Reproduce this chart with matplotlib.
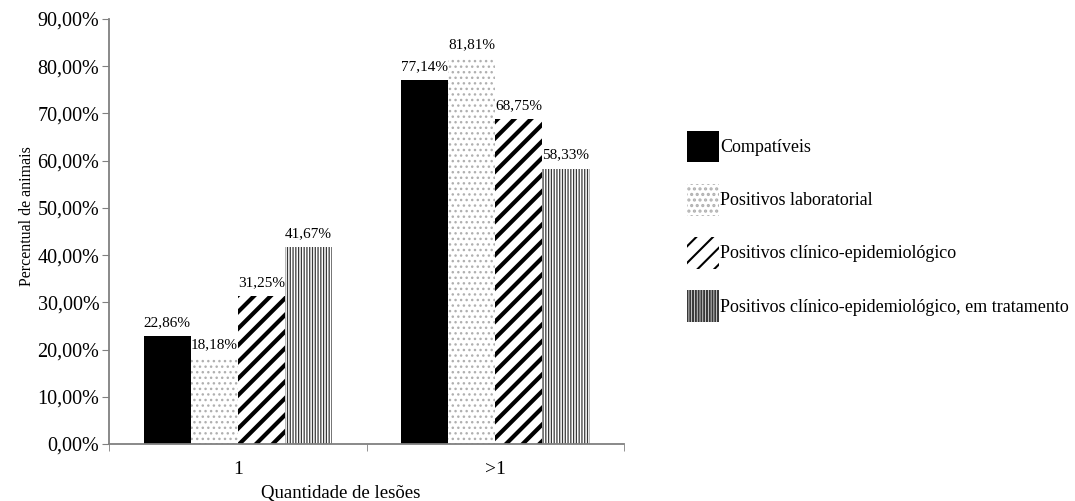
import numpy as np
import matplotlib
matplotlib.use('Agg')
import matplotlib.pyplot as plt
from matplotlib.patches import Patch
from matplotlib.ticker import FuncFormatter

plt.rcParams['font.family'] = ['Liberation Serif', 'DejaVu Serif']

categorias = ['1', '>1']
series = ['Compatíveis', 'Positivos laboratorial', 'Positivos clínico-epidemiológico',
          'Positivos clínico-epidemiológico, em tratamento']
valores = [
    [22.86, 77.14],
    [18.18, 81.81],
    [31.25, 68.75],
    [41.67, 58.33],
]

# estilo de cada série: cor de fundo, cor da hachura, hachura, espessura
estilos = [
    dict(face='black', hcor='black', hatch=None, hlw=1.0),
    dict(face='white', hcor='#b0b0b0', hatch='...', hlw=1.0),
    dict(face='white', hcor='black', hatch='//', hlw=3.0),
    dict(face='white', hcor='#383838', hatch='||||||', hlw=0.9),
]

fig = plt.figure(figsize=(10.75, 5.01), dpi=100)
ax = fig.add_axes([0.1014, 0.1138, 0.4791, 0.8482])

x = np.arange(len(categorias))
largura = 0.183
rotulos = lambda v: ('%.2f%%' % v).replace('.', ',')


def aplica_estilo(p, est):
    p.set_facecolor(est['face'])
    p.set_edgecolor(est['hcor'])
    p.set_linewidth(0)
    if est['hatch']:
        p.set_hatch(est['hatch'])
        try:
            p.set_hatch_linewidth(est['hlw'])
        except AttributeError:
            pass


for i, (nome, vals, est) in enumerate(zip(series, valores, estilos)):
    pos = x + (i - 1.5) * largura
    with plt.rc_context({'hatch.linewidth': est['hlw']}):
        barras = ax.bar(pos, vals, largura, label=nome)
        for b in barras:
            aplica_estilo(b, est)
    for xp, v in zip(pos, vals):
        ax.annotate(rotulos(v), (xp, v), xytext=(0, 5), textcoords='offset points',
                    ha='center', va='bottom', fontsize=11)

ax.set_xlim(-0.5, 1.5)
ax.set_ylim(0, 90)
ax.set_yticks(np.arange(0, 91, 10))
ax.yaxis.set_major_formatter(FuncFormatter(lambda v, _: ('%.2f%%' % v).replace('.', ',')))
ax.set_xticks(x)
ax.set_xticklabels(categorias)
ax.set_xticks([-0.5, 0.5, 1.5], minor=True)
ax.tick_params(axis='x', which='major', length=0, pad=12, labelsize=14)
ax.tick_params(axis='x', which='minor', length=5, direction='out', color='#808080')
ax.tick_params(axis='y', length=5, direction='out', color='#808080', labelsize=14.5, pad=2)

for lado in ['top', 'right']:
    ax.spines[lado].set_visible(False)
for lado in ['left', 'bottom']:
    ax.spines[lado].set_color('#808080')
    ax.spines[lado].set_linewidth(1.3)

ax.set_ylabel('Percentual de animais', fontsize=11.5)
ax.set_xlabel('Quantidade de lesões', fontsize=13.5)
ax.xaxis.set_label_coords(0.45, -0.097)
ax.yaxis.set_label_coords(-0.144, 0.536)

# legenda à direita
alcas = []
for nome, est in zip(series, estilos):
    p = Patch(label=nome)
    aplica_estilo(p, est)
    alcas.append(p)
with plt.rc_context({'hatch.linewidth': 1.5}):
    fig.legend(handles=alcas, loc='upper left', bbox_to_anchor=(687 / 1075, 1 - 131 / 501),
               frameon=False, fontsize=13, handlelength=1.75, handleheight=2.3,
               handletextpad=0.1, labelspacing=1.2, borderpad=0, borderaxespad=0)

fig.savefig('out.png', dpi=100)
